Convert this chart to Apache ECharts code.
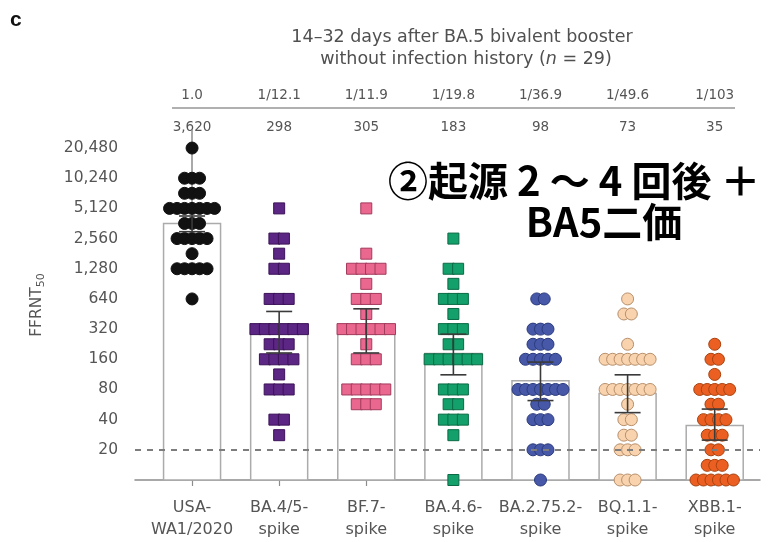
<!DOCTYPE html>
<html>
<head>
<meta charset="utf-8">
<script src="https://cdn.jsdelivr.net/npm/echarts@6/dist/echarts.min.js"></script>
<style>
  html, body { margin: 0; padding: 0; background: #fff; }
  #chart { width: 771px; height: 542px; }
</style>
</head>
<body>
<div id="chart"></div>
<script>
// ---- data ----
const categories = ['USA-\nWA1/2020', 'BA.4/5-\nspike', 'BF.7-\nspike', 'BA.4.6-\nspike', 'BA.2.75.2-\nspike', 'BQ.1.1-\nspike', 'XBB.1-\nspike'];
const foldChange = ['1.0', '1/12.1', '1/11.9', '1/19.8', '1/36.9', '1/49.6', '1/103'];
const gmtLabels = ['3,620', '298', '305', '183', '98', '73', '35'];
const gmt = [3620, 298, 305, 183, 98, 73, 35];
const ciLow = [3000, 185, 185, 112, 62, 47, 25];
const ciHigh = [4300, 480, 510, 285, 150, 112, 51];
const yTicks = [20, 40, 80, 160, 320, 640, 1280, 2560, 5120, 10240, 20480];
const detectionLimit = 20;

// individual FFRNT50 titres per virus
const usaWa1 = [20480, 10240, 10240, 10240, 7241, 7241, 7241, 5120, 5120, 5120, 5120, 5120, 5120, 5120,
  3620, 3620, 3620, 2560, 2560, 2560, 2560, 2560, 1810, 1280, 1280, 1280, 1280, 1280, 640];
const ba45 = [5120, 2560, 2560, 1810, 1280, 1280, 640, 640, 640, 320, 320, 320, 320, 320, 320,
  226, 226, 226, 160, 160, 160, 160, 113, 80, 80, 80, 40, 40, 28];
const bf7 = [5120, 1810, 1280, 1280, 1280, 1280, 905, 640, 640, 640, 453, 320, 320, 320, 320, 320, 320,
  226, 160, 160, 160, 80, 80, 80, 80, 80, 57, 57, 57];
const ba46 = [2560, 1280, 1280, 905, 640, 640, 640, 453, 320, 320, 320, 226, 226,
  160, 160, 160, 160, 160, 160, 80, 80, 80, 57, 57, 40, 40, 40, 28, 10];
const ba2752 = [640, 640, 320, 320, 320, 226, 226, 226, 160, 160, 160, 160, 160,
  80, 80, 80, 80, 80, 80, 80, 57, 57, 40, 40, 40, 20, 20, 20, 10];
const bq11 = [640, 453, 453, 226, 160, 160, 160, 160, 160, 160, 160, 80, 80, 80, 80, 80, 80, 80,
  57, 40, 40, 28, 28, 20, 20, 20, 10, 10, 10];
const xbb1 = [226, 160, 160, 113, 80, 80, 80, 80, 80, 57, 57, 40, 40, 40, 40, 28, 28, 28,
  20, 20, 14, 14, 14, 10, 10, 10, 10, 10, 10];

const groups = [usaWa1, ba45, bf7, ba46, ba2752, bq11, xbb1];

// ---- styles ----
const FONT = 'DejaVu Sans';
const TEXT = '#555';
const markers = [
  { symbol: 'circle', size: 12, fill: '#111111', stroke: '#111111', gap: 7.5 },
  { symbol: 'rect',   size: 11, fill: '#5c2684', stroke: '#3b1257', gap: 9.5 },
  { symbol: 'rect',   size: 11, fill: '#ea6890', stroke: '#a23a5c', gap: 9.5 },
  { symbol: 'rect',   size: 11, fill: '#13a06a', stroke: '#0b6a45', gap: 9.5 },
  { symbol: 'circle', size: 12, fill: '#4858a8', stroke: '#2a3a7c', gap: 7.5 },
  { symbol: 'circle', size: 12, fill: '#f8d3ad', stroke: '#b8906c', gap: 7.5 },
  { symbol: 'circle', size: 12, fill: '#ec5f22', stroke: '#a8420f', gap: 7.5 }
];

// spread equal titres horizontally into centred rows
function swarm(values, catIndex, gap) {
  const counts = {};
  values.forEach(v => { counts[v] = (counts[v] || 0) + 1; });
  const seen = {};
  return values.map(v => {
    const k = seen[v] = (seen[v] || 0) + 1;
    const dx = (k - 1 - (counts[v] - 1) / 2) * gap;
    return { value: [catIndex, v], symbolOffset: [dx, 0] };
  });
}

const scatterSeries = groups.map((vals, i) => ({
  type: 'scatter',
  z: 3,
  symbol: markers[i].symbol,
  symbolSize: markers[i].size,
  itemStyle: { color: markers[i].fill, borderColor: markers[i].stroke, borderWidth: 1, opacity: 1 },
  data: swarm(vals, i, markers[i].gap),
  silent: true
}));

const chart = echarts.init(document.getElementById('chart'), null, { renderer: 'canvas' });

chart.setOption({
  animation: false,
  backgroundColor: '#fff',
  grid: { left: 135, right: 11, top: 130, bottom: 62 },
  xAxis: {
    type: 'value',
    min: -0.655,
    max: 6.52,
    splitLine: { show: false },
    axisLine: { lineStyle: { color: '#8c8c8c', width: 1.5 } },
    axisTick: { show: true, length: 6, lineStyle: { color: '#8c8c8c', width: 1.2 }, customValues: [0, 1, 2, 3, 4, 5, 6] },
    axisLabel: {
      customValues: [0, 1, 2, 3, 4, 5, 6],
      formatter: v => categories[Math.round(v)],
      color: TEXT, fontFamily: FONT, fontSize: 16, lineHeight: 22, margin: 17
    }
  },
  yAxis: {
    type: 'log',
    logBase: 2,
    min: 10,
    max: 31000,
    name: '{a|FFRNT}{b|50}',
    nameLocation: 'middle',
    nameRotate: 90,
    nameGap: 88,
    nameTextStyle: {
      rich: {
        a: { fontFamily: FONT, fontSize: 15.5, color: TEXT },
        b: { fontFamily: FONT, fontSize: 11, color: TEXT, padding: [9, 0, 0, 0] }
      }
    },
    splitLine: { show: false },
    axisLine: { show: true, lineStyle: { color: '#8c8c8c', width: 1.5 } },
    axisTick: { show: true, length: 6, lineStyle: { color: '#8c8c8c', width: 1.2 }, customValues: yTicks },
    axisLabel: {
      customValues: yTicks,
      formatter: v => Math.round(v).toLocaleString('en-US'),
      color: TEXT, fontFamily: FONT, fontSize: 15.5, margin: 17
    }
  },
  series: [
    {
      // geometric-mean bars
      type: 'custom',
      z: 1,
      silent: true,
      data: gmt.map((g, i) => [i, g]),
      renderItem(params, api) {
        const top = api.coord([api.value(0), api.value(1)]);
        const base = api.coord([api.value(0), 10]);
        const w = 57;
        return {
          type: 'rect',
          shape: { x: top[0] - w / 2, y: top[1], width: w, height: base[1] - top[1] },
          style: { fill: '#fff', stroke: '#ababab', lineWidth: 1.5 }
        };
      },
      markLine: {
        silent: true,
        symbol: ['none', 'none'],
        label: { show: false },
        lineStyle: { color: '#7d7d7d', type: [6, 6], width: 2 },
        data: [{ yAxis: detectionLimit }]
      }
    },
    ...scatterSeries,
    {
      // 95% confidence intervals
      type: 'custom',
      z: 4,
      silent: true,
      data: ciLow.map((lo, i) => [i, lo, ciHigh[i]]),
      renderItem(params, api) {
        const lo = api.coord([api.value(0), api.value(1)]);
        const hi = api.coord([api.value(0), api.value(2)]);
        const cap = 13;
        const style = { stroke: '#3a3a3a', lineWidth: 1.6 };
        return {
          type: 'group',
          children: [
            { type: 'line', shape: { x1: lo[0], y1: lo[1], x2: hi[0], y2: hi[1] }, style },
            { type: 'line', shape: { x1: hi[0] - cap, y1: hi[1], x2: hi[0] + cap, y2: hi[1] }, style },
            { type: 'line', shape: { x1: lo[0] - cap, y1: lo[1], x2: lo[0] + cap, y2: lo[1] }, style }
          ]
        };
      }
    }
  ]
});

// header rows aligned to the category positions
const headerGraphics = [];
categories.forEach((c, i) => {
  const x = chart.convertToPixel({ xAxisIndex: 0 }, i);
  headerGraphics.push({
    type: 'text', x: x, y: 95,
    style: { text: foldChange[i], fill: TEXT, font: '13.5px "' + FONT + '"', textAlign: 'center', textVerticalAlign: 'middle' }
  });
  headerGraphics.push({
    type: 'text', x: x, y: 127,
    style: { text: gmtLabels[i], fill: TEXT, font: '13.5px "' + FONT + '"', textAlign: 'center', textVerticalAlign: 'middle' }
  });
});

const titleFont = '17.5px "' + FONT + '"';

chart.setOption({
  graphic: [
    { type: 'text', x: 10, y: 20, style: { text: 'c', fill: '#111', font: 'bold 21px "Liberation Sans"', textVerticalAlign: 'middle' } },
    { type: 'text', x: 462, y: 37, style: { text: '14–32 days after BA.5 bivalent booster', fill: '#505050', font: titleFont, textAlign: 'center', textVerticalAlign: 'middle' } },
    {
      type: 'text', x: 466, y: 59,
      style: {
        text: '{r|without infection history (}{i|n}{r| = 29)}',
        textAlign: 'center', textVerticalAlign: 'middle',
        rich: {
          r: { fontFamily: FONT, fontSize: 17.5, fill: '#505050' },
          i: { fontFamily: FONT, fontSize: 17.5, fontStyle: 'italic', fill: '#505050' }
        }
      }
    },
    { type: 'line', shape: { x1: 172, y1: 108, x2: 735, y2: 108 }, style: { stroke: '#b0b0b0', lineWidth: 2 } },
    ...headerGraphics,
    { type: 'text', x: 388, y: 181, z: 10, style: { text: '②起源 2 ～ 4 回後 ＋', fill: '#000', font: 'bold 40px "Noto Sans CJK JP"', textAlign: 'left', textVerticalAlign: 'middle' } },
    { type: 'text', x: 604, y: 222, z: 10, style: { text: 'BA5二価', fill: '#000', font: 'bold 40px "Noto Sans CJK JP"', textAlign: 'center', textVerticalAlign: 'middle' } }
  ]
});
</script>
</body>
</html>
